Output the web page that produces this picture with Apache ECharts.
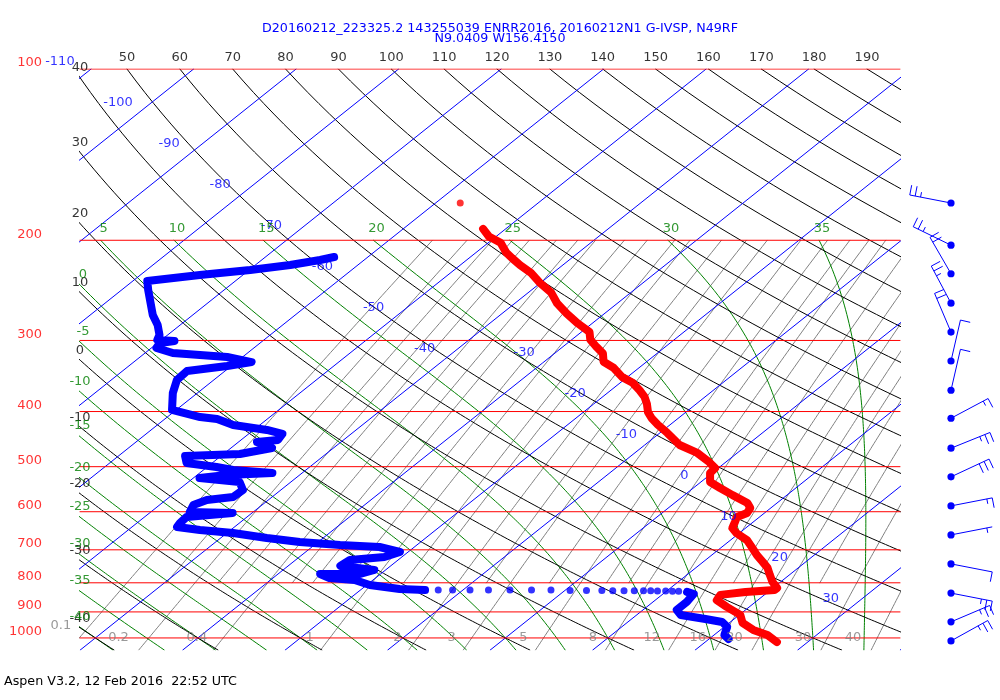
<!DOCTYPE html>
<html><head><meta charset="utf-8">
<script src="https://cdn.jsdelivr.net/npm/echarts@6/dist/echarts.min.js"></script>
<style>html,body{margin:0;padding:0;background:#fff}#c{width:1000px;height:700px}</style>
</head><body><div id="c"></div>
<script>
// ---------------- data ----------------
const titleLine1 = 'D20160212_223325.2 143255039 ENRR2016, 20160212N1 G-IVSP, N49RF';
const titleLine2 = 'N9.0409 W156.4150';
const footerText = 'Aspen V3.2, 12 Feb 2016  22:52 UTC';

const pressureLevels = [100,200,300,400,500,600,700,800,900,1000];
const isothermValues = [-120,-110,-100,-90,-80,-70,-60,-50,-40,-30,-20,-10,0,10,20,30,40];
const isothermLabelsUpper = [-110,-100,-90,-80,-70,-60,-50,-40];
const isothermLabelsLower = [-30,-20,-10,0,10,20,30];
const thetaValues = [-40,-30,-20,-10,0,10,20,30,40,50,60,70,80,90,100,110,120,130,140,150,160,170,180,190,200];
const thetaWValues = [-40,-35,-30,-25,-20,-15,-10,-5,0,5,10,15,20,25,30,35];
const mixingMain = [0.1,0.2,0.4,1,2,3,5,8,12,16,20,30,40];
const mixingExtra = [0.15,0.25,0.3,0.5,0.6,0.8,1.3,1.5,2.5,4,6,7,10,14,18,24];

// temperature profile [hPa, degC]
const tempProfile = [[191,-52.2],[197,-50.7],[202,-48.8],[210,-47.1],[215,-45.8],[221,-44.2],[228,-42.2],[237,-40.2],[247,-37.8],[258,-35.9],[269,-33.7],[280,-31.4],[290,-29.2],[299,-28.2],[308,-26.7],[316,-25.3],[327,-24.2],[335,-22.5],[348,-20.5],[356,-18.8],[367,-17.2],[377,-15.9],[388,-14.8],[401,-13.7],[411,-12.6],[422,-11.2],[436,-9.3],[458,-6.6],[473,-3.9],[491,-1.6],[503,-0.3],[513,-0.2],[532,0.9],[545,2.6],[561,4.7],[579,7.1],[591,8.0],[603,8.3],[613,7.8],[625,8.2],[641,8.7],[654,9.7],[673,11.6],[695,13.1],[715,14.4],[735,15.8],[753,17.0],[775,18.1],[797,19.2],[817,20.4],[824,20.4],[830,17.8],[840,15.7],[858,16.0],[882,17.8],[911,20.1],[941,21.3],[968,23.2],[988,25.2],[1017,27.0]];
const tempTopPoint = [[172,-57.6]];

// dew point profile [hPa, degC]
const dewUpper = [[214,-63.3],[216.6,-64.3],[221.1,-66.6],[225.6,-69.9],[230.2,-74.2],[235.8,-78.6],[244.6,-77.4],[254.7,-76.0],[270.6,-73.9],[281.8,-72.2],[293.4,-70.8],[299.4,-70.4],[300.7,-68.6],[303.1,-69.8],[309.3,-69.5],[315.6,-67.3],[318.2,-64.4],[320.8,-61.5],[327.4,-58.5],[332.7,-60.4],[339.5,-63.7],[352,-63.6],[371.1,-62.4],[397.5,-60.4],[409,-56.8],[412.3,-54.9],[422.4,-52.6],[431,-48.7],[438,-46.7],[448.8,-46.4],[452.5,-48.2],[463.6,-46.0],[475,-48.4],[478.9,-53.5],[492.6,-52.5],[500.6,-49.1],[506.7,-47.1],[513,-42.9],[517.1,-47.1],[523.5,-49.4],[532,-45.0],[549.5,-43.7],[565.3,-43.8],[572.2,-46.0],[583.9,-46.7],[600.6,-46.2],[603,-41.9],[612.9,-45.9],[628,-45.8],[638.2,-45.6],[646.1,-43.0],[653.9,-39.4],[667.3,-35.5],[678.2,-31.8],[686.5,-27.5],[692.1,-23.4],[706.2,-20.8],[720.6,-21.7],[729.4,-24.7],[747.3,-24.9],[759.5,-21.1],[771.9,-22.0],[771.9,-25.9],[784.5,-24.5],[790.9,-21.8],[807.1,-19.7],[820.3,-16.3],[823.6,-13.7]];
const dewDots = [[824,-12.4],[824,-11.0],[824,-9.3],[824,-7.5],[824,-5.4],[824,-3.3],[824,-1.4],[825,0.5],[825,2.1],[825,3.6],[826,4.7],[826,5.8],[826,6.8],[826,7.7],[826,8.4],[827,9.1],[827,9.9],[828,10.6],[828,11.2],[830,12.1]];
const dewLower = [[830,12.1],[837,13.0],[864.5,13.3],[892.9,13.3],[911.2,14.3],[926.1,17.2],[937.4,19.2],[956.5,20.3],[988.1,21.0],[1004.2,21.9]];

// winds: pressure hPa, direction deg, speed kt
const windPressure = [172,204,229,258,290,326,367,411,464,521,586,659,741,834,937,1012];
const windDirection = [281,296,330,332,337,13,13,62,68,65,79,79,101,101,67,61];
const windSpeed = [25,25,20,25,20,10,10,15,25,30,15,3,10,25,25,25];

// ---------------- diagram geometry ----------------
const SKEW = 30.22, KAPPA = 0.2876;
const XMIN = -41.5, XMAX = 38.5, PTOP = 100, PBOT = 1050;
const FONT = 'DejaVu Sans';
function skewX(T, p) { return T + SKEW * Math.log(1000 / p); }
const samples = [];
for (let p = PBOT; p >= PTOP; p -= 5) samples.push(p);
const samples200 = samples.filter(p => p >= 200);
const samplesMid = samples.filter(p => p >= 200 && p <= 800);

function esat(Tk) { const t = Tk - 273.15; return 6.112 * Math.exp(17.67 * t / (t + 243.5)); }
function thetaE(Tk, p) { const es = esat(Tk); const ws = 622 * es / (p - es); return Tk * Math.pow(1000 / p, 0.2857) * Math.exp(2.6518986 * ws / Tk); }
function moistT(thw, p) {
  const te = thetaE(thw + 273.15, 1000);
  let lo = 120, hi = 330;
  for (let i = 0; i < 50; i++) { const m = (lo + hi) / 2; if (thetaE(m, p) > te) hi = m; else lo = m; }
  return (lo + hi) / 2 - 273.15;
}
function tdFromMix(w, p) { const e = w * p / (622 + w); const l = Math.log(e / 6.112); return 243.5 * l / (17.67 - l); }
function dryT(theta, p) { return (theta + 273.15) * Math.pow(p / 1000, KAPPA) - 273.15; }
function leftCrossing(fT, pA, pB) {
  let lo = Math.log(pA), hi = Math.log(pB);
  const f = lp => skewX(fT(Math.exp(lp)), Math.exp(lp)) - XMIN;
  if (f(lo) * f(hi) > 0) return null;
  for (let i = 0; i < 60; i++) { const m = (lo + hi) / 2; if (f(lo) * f(m) <= 0) hi = m; else lo = m; }
  return Math.exp((lo + hi) / 2);
}

const series = [];
function addLine(data, color, width, z) {
  series.push({ type: 'line', data, symbol: 'none', silent: true, animation: false, z: z, clip: true,
    lineStyle: { color, width, cap: 'round', join: 'round' } });
}
function addLabels(items, color) {
  series.push({ type: 'scatter', symbolSize: 0, silent: true, animation: false, clip: false, z: 8,
    data: items.map(it => ({ value: it.v, label: Object.assign({ show: true, formatter: it.t, color, fontSize: 13, fontFamily: FONT }, it.l) })) });
}

// mixing ratio lines
mixingMain.forEach(w => addLine(samples200.map(p => [skewX(tdFromMix(w, p), p), p]), '#808080', 1, 1));
mixingExtra.forEach(w => addLine(samplesMid.map(p => [skewX(tdFromMix(w, p), p), p]), '#808080', 1, 1));
// moist adiabats
thetaWValues.forEach(t => addLine(samples200.map(p => [skewX(moistT(t, p), p), p]), '#008000', 1, 1));
// dry adiabats
thetaValues.forEach(th => addLine(samples.map(p => [skewX(dryT(th, p), p), p]), '#000000', 1, 1));
// isotherms
isothermValues.forEach(T => addLine([[skewX(T, PBOT), PBOT], [skewX(T, PTOP), PTOP]], '#0000ff', 1, 1));
// pressure lines
pressureLevels.forEach(p => addLine([[XMIN, p], [XMAX, p]], '#ff0000', 1, 2));

// profiles
addLine(tempProfile.map(d => [skewX(d[1], d[0]), d[0]]), '#ff0000', 8, 5);
addLine(dewUpper.map(d => [skewX(d[1], d[0]), d[0]]), '#0000ff', 8, 5);
addLine(dewLower.map(d => [skewX(d[1], d[0]), d[0]]), '#0000ff', 8, 5);
series.push({ type: 'scatter', symbolSize: 7, silent: true, animation: false, z: 5, itemStyle: { color: '#0000ff' },
  data: dewDots.map(d => [skewX(d[1], d[0]), d[0]]) });
series.push({ type: 'scatter', symbolSize: 7, silent: true, animation: false, z: 5, clip: false, itemStyle: { color: '#ff0000' },
  data: tempTopPoint.map(d => [skewX(d[1], d[0]), d[0]]) });

// ---------------- labels ----------------
addLabels(pressureLevels.map(p => ({ v: [XMIN, p], t: String(p), l: { position: 'left', distance: 38, offset: [0, -6] } })), '#ff0000');
const lblRatio = Math.exp(41 / 247.1);
addLabels(isothermLabelsUpper.map((T, i) => { const p = 97.2 * Math.pow(lblRatio, i);
  return { v: [skewX(T, p), p], t: String(T), l: { position: 'inside', offset: [i === 0 ? -40 : -33, 0] } }; }), '#0000ff');
addLabels(isothermLabelsLower.map((T, i) => { const p = 315.6 * Math.pow(lblRatio, i);
  return { v: [skewX(T, p), p], t: String(T), l: { position: 'inside', offset: [T === 0 ? -24 : -31, 0] } }; }), '#0000ff');
const dryLbl = [];
thetaValues.forEach(th => {
  const xTop = skewX(dryT(th, PTOP), PTOP);
  if (xTop >= XMIN && xTop <= XMAX) dryLbl.push({ v: [xTop, PTOP], t: String(th), l: { position: 'top', distance: 5 } });
  else if (xTop < XMIN) { const pc = leftCrossing(p => dryT(th, p), PTOP, PBOT); if (pc) dryLbl.push({ v: [XMIN, pc], t: String(th), l: { position: 'top', distance: 3 } }); }
});
addLabels(dryLbl, '#000000');
const moistLbl = [];
thetaWValues.forEach(t => {
  const x200 = skewX(moistT(t, 200), 200);
  if (x200 >= XMIN && x200 <= XMAX) moistLbl.push({ v: [x200, 200], t: String(t), l: { position: 'top', distance: 5, offset: [3, 0] } });
  else if (x200 < XMIN) {
    const pc = leftCrossing(p => moistT(t, p), 200, PBOT);
    if (pc) moistLbl.push({ v: [XMIN, pc], t: String(t), l: { position: 'top', distance: 4, offset: [t >= -5 ? 3 : 0, 0] } });
  }
});
addLabels(moistLbl, '#008000');
addLabels(mixingMain.map(w => ({ v: [skewX(tdFromMix(w, 1000), 1000), 1000], t: String(w),
  l: w === 0.1 ? { position: 'left', distance: 8, offset: [0, -12] } : { position: 'left', distance: w === 0.2 ? 20 : 16 } })), '#808080');

// ---------------- wind barbs ----------------
series.push({
  type: 'custom', coordinateSystem: 'cartesian2d', clip: false, silent: true, animation: false, z: 6,
  data: windPressure.map((p, i) => [XMAX, p, windDirection[i], windSpeed[i]]),
  renderItem: function (params, api) {
    const pt = api.coord([api.value(0), api.value(1)]);
    const cx = pt[0] + 51, cy = pt[1];
    const dir = api.value(2) * Math.PI / 180, spd = api.value(3);
    const ux = Math.sin(dir), uy = -Math.cos(dir);
    const px = -uy, py = ux;
    const L = 42, ex = cx + ux * L, ey = cy + uy * L;
    const st = { stroke: '#0000ff', lineWidth: 1, fill: null };
    const kids = [{ type: 'line', shape: { x1: cx, y1: cy, x2: ex, y2: ey }, style: st }];
    const r = Math.round(spd / 5) * 5; const full = Math.floor(r / 10), half = (r % 10) >= 5 ? 1 : 0;
    let k = 0; const sp = 5.5;
    for (let i = 0; i < full; i++, k++) {
      const bx = ex - ux * sp * k, by = ey - uy * sp * k;
      kids.push({ type: 'line', shape: { x1: bx, y1: by, x2: bx + px * 10, y2: by + py * 10 }, style: st });
    }
    if (half) {
      if (k === 0) k = 1;
      const bx = ex - ux * sp * k, by = ey - uy * sp * k;
      kids.push({ type: 'line', shape: { x1: bx, y1: by, x2: bx + px * 5, y2: by + py * 5 }, style: st });
    }
    kids.push({ type: 'circle', shape: { cx, cy, r: 3.6 }, style: { fill: '#0000ff' } });
    return { type: 'group', children: kids };
  }
});

const chart = echarts.init(document.getElementById('c'), null, { renderer: 'canvas' });
chart.setOption({
  animation: false,
  backgroundColor: '#ffffff',
  title: [
    { text: titleLine1, left: 'center', top: 22, padding: 0, textStyle: { color: '#0000ff', fontSize: 12.7, fontWeight: 'normal', fontFamily: FONT } },
    { text: titleLine2, left: 'center', top: 32, padding: 0, textStyle: { color: '#0000ff', fontSize: 12.7, fontWeight: 'normal', fontFamily: FONT } },
    { text: footerText, left: 4, top: 675, padding: 0, textStyle: { color: '#000000', fontSize: 12.7, fontWeight: 'normal', fontFamily: FONT } }
  ],
  grid: { left: 80, right: 100, top: 69, bottom: 50, containLabel: false },
  xAxis: { type: 'value', min: XMIN, max: XMAX, show: false, splitLine: { show: false } },
  yAxis: { type: 'log', logBase: 10, min: PTOP, max: PBOT, inverse: true, show: false, splitLine: { show: false } },
  series: series
});
</script></body></html>
